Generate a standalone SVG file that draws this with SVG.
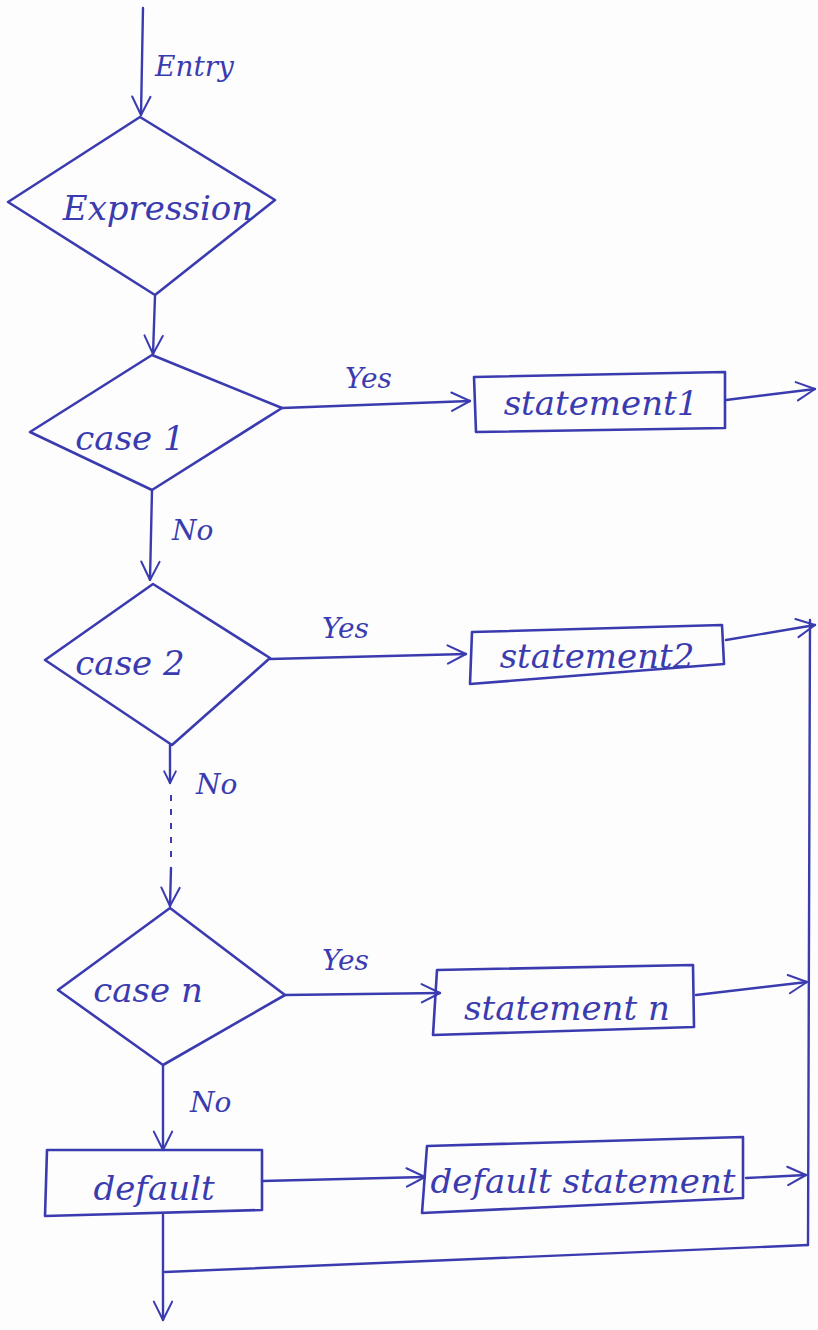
<svg xmlns="http://www.w3.org/2000/svg" width="818" height="1330" viewBox="0 0 818 1330">
  <style>
    .shape { fill: none; stroke: #3b3bb0; stroke-width: 2.6; stroke-linejoin: round; stroke-linecap: round; }
    .wire { fill: none; stroke: #3b3bb0; stroke-width: 2.4; stroke-linecap: round; }
    .dots { fill: none; stroke: #3b3bb0; stroke-width: 2; stroke-dasharray: 6 8; }
    .lbl { font-family: "DejaVu Serif", "Liberation Serif", serif; font-style: italic; fill: #3b3bb0; font-size: 34px; }
    .edge { font-family: "DejaVu Serif", "Liberation Serif", serif; font-style: italic; fill: #3b3bb0; font-size: 28px; }
  </style>
  <defs>
    <marker id="arrow" viewBox="0 0 12 12" refX="11" refY="6" markerWidth="14" markerHeight="14" markerUnits="userSpaceOnUse" orient="auto">
      <path d="M1,1 L11,6 L1,11" fill="none" stroke="#3b3bb0" stroke-width="1.6" stroke-linecap="round" stroke-linejoin="round"/>
    </marker>
    <marker id="arrowBig" viewBox="0 0 12 12" refX="11" refY="6" markerWidth="22" markerHeight="22" markerUnits="userSpaceOnUse" orient="auto">
      <path d="M1,1 L11,6 L1,11" fill="none" stroke="#3b3bb0" stroke-width="1.1" stroke-linecap="round" stroke-linejoin="round"/>
    </marker>
  </defs>

  <rect width="818" height="1330" fill="#fdfdfe"/>

  <!-- connectors -->
  <g id="connectors">
    <line class="wire" x1="143" y1="8" x2="141" y2="115" marker-end="url(#arrowBig)"/>
    <text class="edge" x="155" y="76" font-size="32">Entry</text>

    <line class="wire" x1="155" y1="296" x2="153" y2="354" marker-end="url(#arrowBig)"/>

    <line class="wire" x1="282" y1="408" x2="470" y2="401" marker-end="url(#arrowBig)"/>
    <text class="edge" x="345" y="388">Yes</text>
    <line class="wire" x1="726" y1="400" x2="815" y2="389" marker-end="url(#arrowBig)"/>

    <line class="wire" x1="152" y1="490" x2="150" y2="580" marker-end="url(#arrowBig)"/>
    <text class="edge" x="172" y="540">No</text>

    <line class="wire" x1="270" y1="659" x2="466" y2="654" marker-end="url(#arrowBig)"/>
    <text class="edge" x="322" y="638">Yes</text>
    <line class="wire" x1="726" y1="640" x2="815" y2="625" marker-end="url(#arrowBig)"/>

    <line class="wire" x1="170" y1="745" x2="170" y2="783" marker-end="url(#arrow)"/>
    <text class="edge" x="196" y="794">No</text>
    <line class="dots" x1="171" y1="795" x2="171" y2="862"/>
    <line class="wire" x1="171" y1="868" x2="170" y2="906" marker-end="url(#arrowBig)"/>

    <line class="wire" x1="285" y1="995" x2="440" y2="993" marker-end="url(#arrowBig)"/>
    <text class="edge" x="322" y="970">Yes</text>
    <line class="wire" x1="696" y1="995" x2="807" y2="982" marker-end="url(#arrowBig)"/>

    <line class="wire" x1="163" y1="1066" x2="163" y2="1150" marker-end="url(#arrowBig)"/>
    <text class="edge" x="190" y="1112">No</text>

    <line class="wire" x1="262" y1="1181" x2="425" y2="1177" marker-end="url(#arrowBig)"/>
    <line class="wire" x1="746" y1="1178" x2="806" y2="1175" marker-end="url(#arrowBig)"/>

    <!-- shared exit path -->
    <line class="wire" x1="810" y1="620" x2="808" y2="1245"/>
    <line class="wire" x1="808" y1="1245" x2="165" y2="1272"/>
    <line class="wire" x1="163" y1="1215" x2="163" y2="1320" marker-end="url(#arrowBig)"/>
  </g>

  <g id="expression">
    <polygon class="shape" points="140,117 275,200 155,295 8,202"/>
    <text class="lbl" x="158" y="220" text-anchor="middle" font-size="36">Expression</text>
  </g>

  <g id="case1">
    <polygon class="shape" points="152,355 282,408 152,490 30,432"/>
    <text class="lbl" x="130" y="450" text-anchor="middle">case 1</text>
  </g>

  <g id="statement1">
    <polygon class="shape" points="474,377 725,372 725,428 476,432"/>
    <text class="lbl" x="601" y="415" text-anchor="middle">statement1</text>
  </g>

  <g id="case2">
    <polygon class="shape" points="153,584 270,658 172,745 45,660"/>
    <text class="lbl" x="130" y="675" text-anchor="middle">case 2</text>
  </g>

  <g id="statement2">
    <polygon class="shape" points="472,632 722,625 724,664 470,684"/>
    <text class="lbl" x="597" y="668" text-anchor="middle">statement2</text>
  </g>

  <g id="casen">
    <polygon class="shape" points="170,908 285,995 163,1065 58,990"/>
    <text class="lbl" x="148" y="1002" text-anchor="middle">case n</text>
  </g>

  <g id="statementn">
    <polygon class="shape" points="437,970 693,965 694,1027 433,1035"/>
    <text class="lbl" x="567" y="1020" text-anchor="middle">statement n</text>
  </g>

  <g id="default">
    <polygon class="shape" points="47,1150 262,1150 262,1210 45,1216"/>
    <text class="lbl" x="154" y="1200" text-anchor="middle">default</text>
  </g>

  <g id="defaultstatement">
    <polygon class="shape" points="427,1146 743,1137 743,1198 422,1213"/>
    <text class="lbl" x="583" y="1193" text-anchor="middle" font-size="29">default statement</text>
  </g>
</svg>
